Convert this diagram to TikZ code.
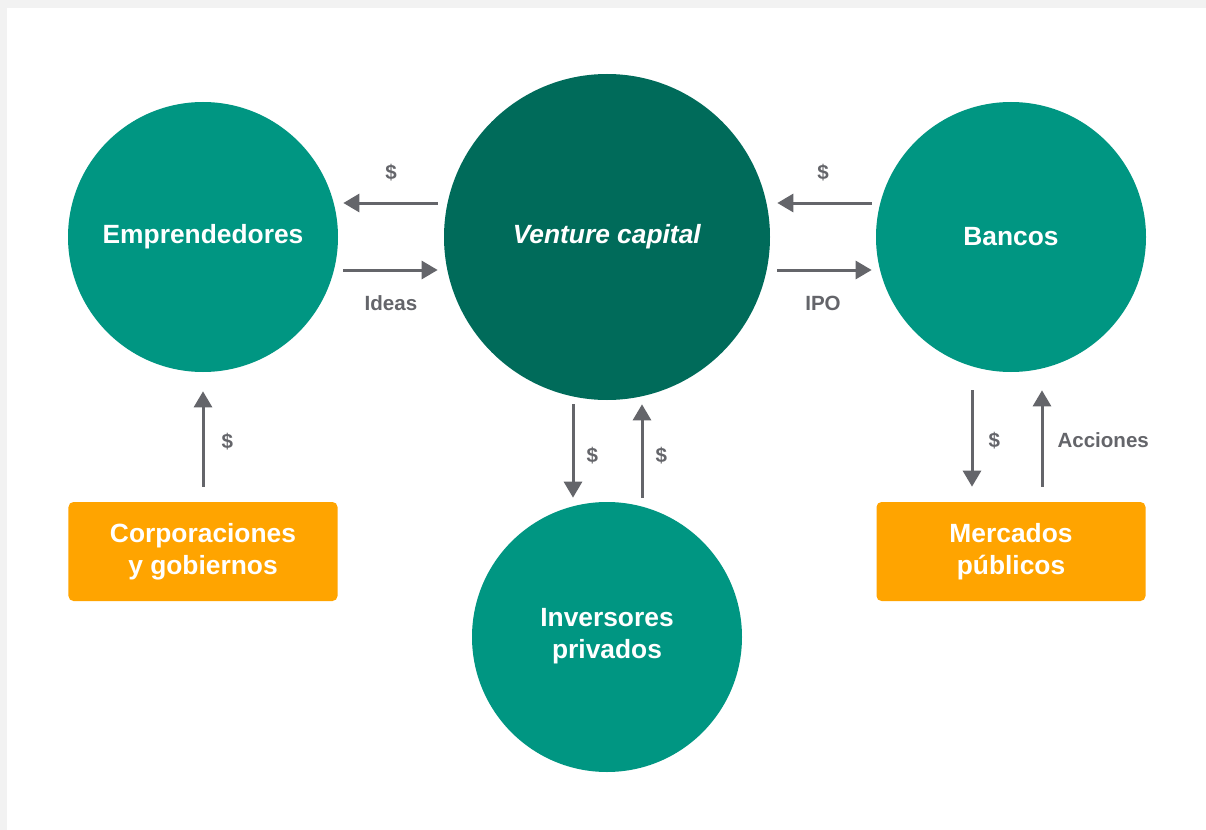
\documentclass[tikz,border=0pt]{standalone}
\usepackage{fontspec}
\setmainfont{Liberation Sans}
\usetikzlibrary{arrows.meta,positioning}

\definecolor{circgreen}{HTML}{009682}
\definecolor{vcgreen}{HTML}{006B5A}
\definecolor{boxorange}{HTML}{FFA400}
\definecolor{arrowgray}{HTML}{64656A}
\definecolor{bandgray}{HTML}{F2F2F2}

\tikzset{
  actor/.style={circle, fill=circgreen, minimum size=5.4cm, inner sep=0pt,
    text=white, align=center, font=\bfseries\fontsize{15}{18.2}\selectfont},
  source/.style={rectangle, rounded corners=0.1cm, fill=boxorange,
    minimum width=5.38cm, minimum height=1.98cm, inner sep=0pt,
    text=white, align=center, font=\bfseries\fontsize{15}{18.2}\selectfont},
  flow/.style={-{Triangle[length=0.32cm,width=0.36cm]}, line width=0.06cm, draw=arrowgray},
  tag/.style={text=arrowgray, inner sep=0pt, font=\bfseries\fontsize{11.7}{14}\selectfont}
}

\begin{document}
\begin{tikzpicture}[node distance=8.08cm]
  \useasboundingbox (0,0) rectangle (24.12,-16.6);
  \fill[white] (0,0) rectangle (24.12,-16.6);
  \fill[bandgray] (0,0) rectangle (24.12,-0.16);
  \fill[bandgray] (0,0) rectangle (0.14,-16.6);

  \node(vc)[actor, fill=vcgreen, minimum size=6.52cm] at (12.14,-4.74) {\textit{Venture capital}};
  \node(emp)[actor, left of=vc] {Emprendedores};
  \node(ban)[actor, right of=vc] {Bancos};
  \node(inv)[actor, below of=vc, node distance=8cm, text depth=0.15cm] {Inversores\\privados};
  \node(corp)[source, below of=emp, node distance=6.29cm] {Corporaciones\\y gobiernos};
  \node(mkt)[source, below of=ban, node distance=6.29cm] {Mercados\\públicos};

  \draw[flow, shorten <=0.12cm, shorten >=0.1cm] ([yshift=0.68cm]vc.west) -- ([yshift=0.68cm]emp.east) node[tag, midway, yshift=0.6cm] {\$};
  \draw[flow, shorten <=0.1cm, shorten >=0.12cm] ([yshift=-0.66cm]emp.east) -- ([yshift=-0.66cm]vc.west) node[tag, midway, yshift=-0.66cm] {Ideas};
  \draw[flow, shorten <=0.08cm, shorten >=0.14cm] ([yshift=0.68cm]ban.west) -- ([yshift=0.68cm]vc.east) node[tag, midway, yshift=0.6cm] {\$};
  \draw[flow, shorten <=0.14cm, shorten >=0.08cm] ([yshift=-0.66cm]vc.east) -- ([yshift=-0.66cm]ban.west) node[tag, midway, yshift=-0.66cm] {IPO};
  \draw[flow, shorten <=0.3cm, shorten >=0.38cm] (corp.north) -- (emp.south) node[tag, midway, right=0.34cm, yshift=-0.1cm] {\$};
  \draw[flow, shorten <=0.08cm, shorten >=0.08cm] ([xshift=-0.68cm]vc.south) -- ([xshift=-0.68cm]inv.north) node[tag, midway, right=0.24cm, yshift=-0.1cm] {\$};
  \draw[flow, shorten <=0.08cm, shorten >=0.08cm] ([xshift=0.7cm]inv.north) -- ([xshift=0.7cm]vc.south) node[tag, midway, right=0.24cm, yshift=-0.1cm] {\$};
  \draw[flow, shorten <=0.36cm, shorten >=0.3cm] ([xshift=-0.78cm]ban.south) -- ([xshift=-0.78cm]mkt.north) node[tag, midway, right=0.3cm, yshift=-0.08cm] {\$};
  \draw[flow, shorten <=0.3cm, shorten >=0.36cm] ([xshift=0.62cm]mkt.north) -- ([xshift=0.62cm]ban.south) node[tag, midway, right=0.28cm, yshift=-0.06cm] {Acciones};
\end{tikzpicture}
\end{document}
